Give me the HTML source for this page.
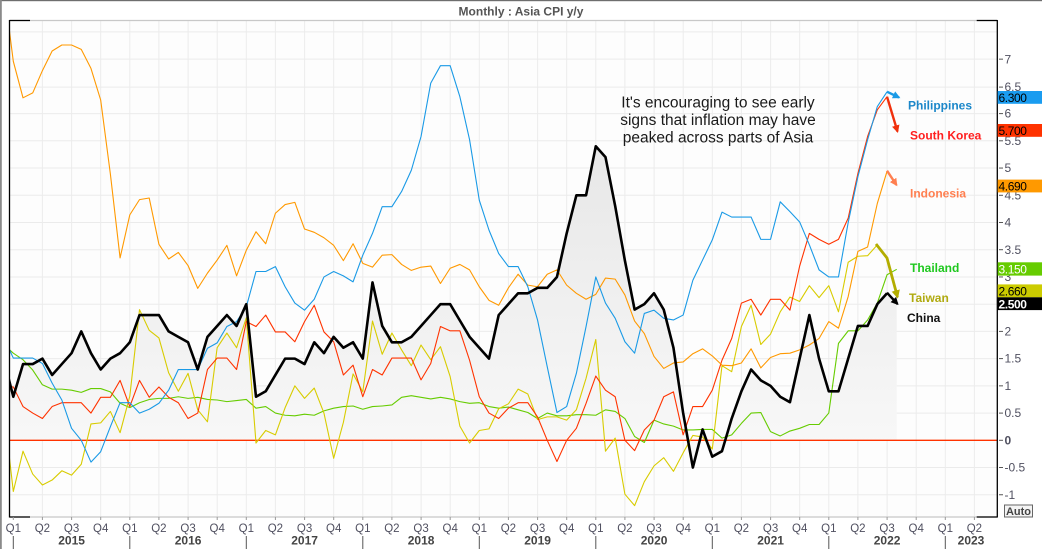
<!DOCTYPE html>
<html>
<head>
<meta charset="utf-8">
<style>
  html,body{margin:0;padding:0;background:#fff;}
  svg{display:block;}
  text{font-family:"Liberation Sans",Arial,sans-serif;}
</style>
</head>
<body>
<svg width="1042" height="549" viewBox="0 0 1042 549" xmlns="http://www.w3.org/2000/svg">
  <defs>
    <clipPath id="plotclip"><rect x="9.5" y="20.5" width="987.5" height="496.5"/></clipPath>
    <linearGradient id="gf" x1="0" y1="0" x2="0" y2="1">
      <stop offset="0" stop-color="#f9f9f9"/>
      <stop offset="1" stop-color="#e7e7e7"/>
    </linearGradient>
    <marker id="mBlue" viewBox="0 0 10 10" refX="8" refY="5" markerWidth="3.2" markerHeight="3.2" orient="auto"><path d="M0,0 L10,5 L0,10 z" fill="#1a9ae6"/></marker>
    <marker id="mRed" viewBox="0 0 10 10" refX="8" refY="5" markerWidth="3.2" markerHeight="3.2" orient="auto"><path d="M0,0 L10,5 L0,10 z" fill="#f0300c"/></marker>
    <marker id="mCoral" viewBox="0 0 10 10" refX="8" refY="5" markerWidth="3.2" markerHeight="3.2" orient="auto"><path d="M0,0 L10,5 L0,10 z" fill="#ff7f50"/></marker>
    <marker id="mOlive" viewBox="0 0 10 10" refX="8" refY="5" markerWidth="3" markerHeight="3" orient="auto"><path d="M0,0 L10,5 L0,10 z" fill="#b3ad00"/></marker>
    <marker id="mBlack" viewBox="0 0 10 10" refX="8" refY="5" markerWidth="3.2" markerHeight="3.2" orient="auto"><path d="M0,0 L10,5 L0,10 z" fill="#000"/></marker>
  </defs>

  <!-- outer frame -->
  <rect x="0" y="0" width="1042" height="549" fill="#ffffff"/>
  <rect x="0" y="0" width="1042" height="1.2" fill="#6e6e6e"/>
  <rect x="0" y="0" width="1.8" height="549" fill="#8a8a8a"/>

  <!-- title -->
  <text x="521" y="15.5" text-anchor="middle" font-size="12" font-weight="bold" fill="#555">Monthly : Asia CPI y/y</text>

  <!-- plot background -->
  <rect x="9.5" y="20.5" width="987.5" height="496.5" fill="#fdfdfd"/>

  <!-- horizontal gridlines -->
  <g stroke="#ebebeb" stroke-width="1">
    <line x1="9.5" y1="31.9" x2="997" y2="31.9"/>
    <line x1="9.5" y1="59.15" x2="997" y2="59.15"/>
    <line x1="9.5" y1="87.1" x2="997" y2="87.1"/>
    <line x1="9.5" y1="113.6" x2="997" y2="113.6"/>
    <line x1="9.5" y1="140.8" x2="997" y2="140.8"/>
    <line x1="9.5" y1="168.05" x2="997" y2="168.05"/>
    <line x1="9.5" y1="195.3" x2="997" y2="195.3"/>
    <line x1="9.5" y1="222.5" x2="997" y2="222.5"/>
    <line x1="9.5" y1="249.7" x2="997" y2="249.7"/>
    <line x1="9.5" y1="276.95" x2="997" y2="276.95"/>
    <line x1="9.5" y1="304.2" x2="997" y2="304.2"/>
    <line x1="9.5" y1="331.4" x2="997" y2="331.4"/>
    <line x1="9.5" y1="358.6" x2="997" y2="358.6"/>
    <line x1="9.5" y1="385.85" x2="997" y2="385.85"/>
    <line x1="9.5" y1="413.1" x2="997" y2="413.1"/>
    <line x1="9.5" y1="467.5" x2="997" y2="467.5"/>
    <line x1="9.5" y1="494.75" x2="997" y2="494.75"/>
  </g>
  <!-- vertical gridlines (quarters) -->
  <g stroke="#ececec" stroke-width="1">
    <line x1="42.4" y1="20.5" x2="42.4" y2="517"/>
    <line x1="71.6" y1="20.5" x2="71.6" y2="517"/>
    <line x1="100.7" y1="20.5" x2="100.7" y2="517"/>
    <line x1="129.8" y1="20.5" x2="129.8" y2="517"/>
    <line x1="158.9" y1="20.5" x2="158.9" y2="517"/>
    <line x1="188.1" y1="20.5" x2="188.1" y2="517"/>
    <line x1="217.2" y1="20.5" x2="217.2" y2="517"/>
    <line x1="246.3" y1="20.5" x2="246.3" y2="517"/>
    <line x1="275.4" y1="20.5" x2="275.4" y2="517"/>
    <line x1="304.6" y1="20.5" x2="304.6" y2="517"/>
    <line x1="333.7" y1="20.5" x2="333.7" y2="517"/>
    <line x1="362.8" y1="20.5" x2="362.8" y2="517"/>
    <line x1="391.9" y1="20.5" x2="391.9" y2="517"/>
    <line x1="421.1" y1="20.5" x2="421.1" y2="517"/>
    <line x1="450.2" y1="20.5" x2="450.2" y2="517"/>
    <line x1="479.3" y1="20.5" x2="479.3" y2="517"/>
    <line x1="508.4" y1="20.5" x2="508.4" y2="517"/>
    <line x1="537.6" y1="20.5" x2="537.6" y2="517"/>
    <line x1="566.7" y1="20.5" x2="566.7" y2="517"/>
    <line x1="595.8" y1="20.5" x2="595.8" y2="517"/>
    <line x1="624.9" y1="20.5" x2="624.9" y2="517"/>
    <line x1="654.1" y1="20.5" x2="654.1" y2="517"/>
    <line x1="683.2" y1="20.5" x2="683.2" y2="517"/>
    <line x1="712.3" y1="20.5" x2="712.3" y2="517"/>
    <line x1="741.4" y1="20.5" x2="741.4" y2="517"/>
    <line x1="770.6" y1="20.5" x2="770.6" y2="517"/>
    <line x1="799.7" y1="20.5" x2="799.7" y2="517"/>
    <line x1="828.8" y1="20.5" x2="828.8" y2="517"/>
    <line x1="857.9" y1="20.5" x2="857.9" y2="517"/>
    <line x1="887.1" y1="20.5" x2="887.1" y2="517"/>
    <line x1="916.2" y1="20.5" x2="916.2" y2="517"/>
    <line x1="945.3" y1="20.5" x2="945.3" y2="517"/>
    <line x1="974.4" y1="20.5" x2="974.4" y2="517"/>
  </g>

  <g clip-path="url(#plotclip)">
    <g transform="matrix(9.708 0 0 -54.45 13.3 440.3)">
      <!-- China area fill -->
      <polygon fill="url(#gf)" points="-1,0 -1,1.5 0,0.8 1,1.4 2,1.4 3,1.5 4,1.2 5,1.4 6,1.6 7,2.0 8,1.6 9,1.3 10,1.5 11,1.6 12,1.8 13,2.3 14,2.3 15,2.3 16,2.0 17,1.9 18,1.8 19,1.3 20,1.9 21,2.1 22,2.3 23,2.1 24,2.5 25,0.8 26,0.9 27,1.2 28,1.5 29,1.5 30,1.4 31,1.8 32,1.6 33,1.9 34,1.7 35,1.8 36,1.5 37,2.9 38,2.1 39,1.8 40,1.8 41,1.9 42,2.1 43,2.3 44,2.5 45,2.5 46,2.2 47,1.9 48,1.7 49,1.5 50,2.3 51,2.5 52,2.7 53,2.7 54,2.8 55,2.8 56,3.0 57,3.8 58,4.5 59,4.5 60,5.4 61,5.2 62,4.3 63,3.3 64,2.4 65,2.5 66,2.7 67,2.4 68,1.7 69,0.5 70,-0.5 71,0.2 72,-0.3 73,-0.2 74,0.4 75,0.9 76,1.3 77,1.1 78,1.0 79,0.8 80,0.7 81,1.5 82,2.3 83,1.5 84,0.9 85,0.9 86,1.5 87,2.1 88,2.1 89,2.5 90,2.7 91,2.5 91,0"/>
    </g>

    <!-- zero line -->
    <line x1="9.5" y1="440.3" x2="997" y2="440.3" stroke="#ff3300" stroke-width="1.3"/>

    <g transform="matrix(9.708 0 0 -54.45 13.3 440.3)" fill="none" stroke-linejoin="round">
      <!-- Thailand (core) -->
      <polyline vector-effect="non-scaling-stroke" stroke="#66cc00" stroke-width="1.1" points="-1,1.76 0,1.60 1,1.48 2,1.29 3,1.02 4,0.94 5,0.94 6,0.92 7,0.88 8,0.95 9,0.95 10,0.89 11,0.68 12,0.60 13,0.69 14,0.75 15,0.77 16,0.77 17,0.80 18,0.77 19,0.79 20,0.75 21,0.74 22,0.71 23,0.73 24,0.75 25,0.59 26,0.62 27,0.50 28,0.46 29,0.45 30,0.48 31,0.46 32,0.54 33,0.59 34,0.62 35,0.63 36,0.57 37,0.62 38,0.63 39,0.65 40,0.79 41,0.82 42,0.79 43,0.76 44,0.79 45,0.76 46,0.71 47,0.68 48,0.69 49,0.62 50,0.59 51,0.61 52,0.56 53,0.51 54,0.40 55,0.50 56,0.45 57,0.45 58,0.47 59,0.47 60,0.46 61,0.56 62,0.53 63,0.40 64,0.07 65,-0.04 66,0.37 67,0.30 68,0.26 69,0.19 70,0.19 71,0.20 72,0.20 73,0.04 74,0.10 75,0.31 76,0.50 77,0.51 78,0.16 79,0.08 80,0.17 81,0.22 82,0.29 83,0.29 84,0.50 85,1.78 86,2.01 87,2.01 88,2.21 89,2.52 90,3.04 91,3.14"/>
      <!-- Taiwan -->
      <polyline vector-effect="non-scaling-stroke" stroke="#d8cc00" stroke-width="1.1" points="-1,0.61 0,-0.94 1,-0.20 2,-0.62 3,-0.82 4,-0.73 5,-0.56 6,-0.64 7,-0.44 8,0.30 9,0.32 10,0.53 11,0.14 12,0.81 13,2.40 14,2.02 15,1.88 16,1.24 17,0.90 18,1.23 19,0.56 20,0.34 21,1.70 22,1.97 23,1.70 24,2.25 25,-0.05 26,0.18 27,0.10 28,0.60 29,1.00 30,0.77 31,0.96 32,0.50 33,-0.33 34,0.33 35,1.22 36,0.89 37,2.19 38,1.58 39,1.97 40,1.66 41,1.37 42,1.75 43,1.48 44,1.72 45,1.17 46,0.26 47,-0.05 48,0.18 49,0.21 50,0.58 51,0.67 52,0.94 53,0.85 54,0.38 55,0.43 56,0.43 57,0.37 58,0.56 59,1.14 60,1.85 61,-0.20 62,0.04 63,-0.99 64,-1.20 65,-0.76 66,-0.47 67,-0.32 68,-0.57 69,-0.23 70,0.09 71,0.06 72,-0.16 73,1.37 74,1.26 75,2.09 76,2.48 77,1.76 78,1.95 79,2.36 80,2.63 81,2.55 82,2.84 83,2.62 84,2.84 85,2.36 86,3.27 87,3.38 88,3.39 89,3.59"/>
      <!-- South Korea -->
      <polyline vector-effect="non-scaling-stroke" stroke="#ff3300" stroke-width="1.1" points="-1,0.98 0,0.98 1,0.62 2,0.50 3,0.40 4,0.62 5,0.69 6,0.69 7,0.69 8,0.50 9,0.79 10,0.79 11,1.10 12,0.62 13,1.10 14,0.79 15,0.98 16,0.79 17,0.69 18,0.40 19,0.50 20,1.30 21,1.51 22,1.51 23,1.30 24,2.18 25,2.09 26,2.30 27,1.99 28,1.99 29,1.81 30,2.18 31,2.48 32,1.99 33,1.81 34,1.20 35,1.38 36,0.80 37,1.30 38,1.20 39,1.51 40,1.51 41,1.51 42,1.11 43,1.41 44,2.09 45,2.01 46,2.01 47,1.47 48,0.80 49,0.50 50,0.40 51,0.59 52,0.69 53,0.69 54,0.43 55,0.00 56,-0.39 57,0.00 58,0.22 59,0.68 60,1.18 61,0.92 62,0.80 63,0.00 64,-0.19 65,0.19 66,0.37 67,0.80 68,0.89 69,0.10 70,0.62 71,0.62 72,0.92 73,1.47 74,1.87 75,2.52 76,2.59 77,2.30 78,2.59 79,2.59 80,2.39 81,3.20 82,3.80 83,3.69 84,3.60 85,3.69 86,4.08 87,4.90 88,5.58 89,6.07 90,6.31"/>
      <!-- Indonesia -->
      <polyline vector-effect="non-scaling-stroke" stroke="#ff9900" stroke-width="1.1" points="-1,8.36 0,6.96 1,6.29 2,6.38 3,6.79 4,7.15 5,7.26 6,7.26 7,7.18 8,6.83 9,6.25 10,4.89 11,3.35 12,4.14 13,4.42 14,4.45 15,3.60 16,3.33 17,3.45 18,3.21 19,2.79 20,3.07 21,3.31 22,3.58 23,3.02 24,3.49 25,3.83 26,3.61 27,4.17 28,4.33 29,4.37 30,3.88 31,3.82 32,3.72 33,3.58 34,3.30 35,3.61 36,3.25 37,3.18 38,3.40 39,3.41 40,3.23 41,3.12 42,3.18 43,3.20 44,2.88 45,3.16 46,3.23 47,3.13 48,2.82 49,2.57 50,2.48 51,2.80 52,3.05 53,2.85 54,2.82 55,3.05 56,3.13 57,2.85 58,2.70 59,2.59 60,2.68 61,2.98 62,2.96 63,2.67 64,2.19 65,1.96 66,1.54 67,1.32 68,1.42 69,1.44 70,1.59 71,1.68 72,1.55 73,1.38 74,1.37 75,1.42 76,1.68 77,1.33 78,1.52 79,1.59 80,1.60 81,1.66 82,1.75 83,1.87 84,2.18 85,2.06 86,2.64 87,3.47 88,3.55 89,4.35 90,4.94"/>
      <!-- Philippines -->
      <polyline vector-effect="non-scaling-stroke" stroke="#1a9ae6" stroke-width="1.1" points="-1,1.9 0,1.51 1,1.51 2,1.51 3,1.41 4,1.05 5,0.74 6,0.22 7,0.00 8,-0.40 9,-0.21 10,0.25 11,0.69 12,0.69 13,0.50 14,0.57 15,0.68 16,0.92 17,1.30 18,1.30 19,1.30 20,1.69 21,1.79 22,2.09 23,2.18 24,2.45 25,3.10 26,3.10 27,3.19 28,2.82 29,2.52 30,2.39 31,2.59 32,3.00 33,3.10 34,3.02 35,2.91 36,3.40 37,3.80 38,4.29 39,4.29 40,4.57 41,4.96 42,5.58 43,6.56 44,6.88 45,6.88 46,6.31 47,5.52 48,4.41 49,3.86 50,3.43 51,3.19 52,3.19 53,2.82 54,2.21 55,1.35 56,0.51 57,0.62 58,1.23 59,2.09 60,3.00 61,2.52 62,2.24 63,1.81 64,1.60 65,2.33 66,2.39 67,2.24 68,2.21 69,2.30 70,2.94 71,3.31 72,3.68 73,4.19 74,4.10 75,4.10 76,4.10 77,3.69 78,3.69 79,4.38 80,4.20 81,4.01 82,3.59 83,3.13 84,3.00 85,3.00 86,4.00 87,4.84 88,5.52 89,6.13 90,6.40"/>
      <!-- China -->
      <polyline vector-effect="non-scaling-stroke" stroke="#000000" stroke-width="2.6" points="-1,1.5 0,0.8 1,1.4 2,1.4 3,1.5 4,1.2 5,1.4 6,1.6 7,2.0 8,1.6 9,1.3 10,1.5 11,1.6 12,1.8 13,2.3 14,2.3 15,2.3 16,2.0 17,1.9 18,1.8 19,1.3 20,1.9 21,2.1 22,2.3 23,2.1 24,2.5 25,0.8 26,0.9 27,1.2 28,1.5 29,1.5 30,1.4 31,1.8 32,1.6 33,1.9 34,1.7 35,1.8 36,1.5 37,2.9 38,2.1 39,1.8 40,1.8 41,1.9 42,2.1 43,2.3 44,2.5 45,2.5 46,2.2 47,1.9 48,1.7 49,1.5 50,2.3 51,2.5 52,2.7 53,2.7 54,2.8 55,2.8 56,3.0 57,3.8 58,4.5 59,4.5 60,5.4 61,5.2 62,4.3 63,3.3 64,2.4 65,2.5 66,2.7 67,2.4 68,1.7 69,0.5 70,-0.5 71,0.2 72,-0.3 73,-0.2 74,0.4 75,0.9 76,1.3 77,1.1 78,1.0 79,0.8 80,0.7 81,1.5 82,2.3 83,1.5 84,0.9 85,0.9 86,1.5 87,2.1 88,2.1 89,2.5 90,2.7"/>
    </g>
  </g>

  <!-- annotation arrows -->
  <g fill="none" stroke-linejoin="round">
    <path d="M887,91.7 L899,97.5" stroke="#1a9ae6" stroke-width="2.4" marker-end="url(#mBlue)"/>
    <path d="M887,96.7 L897.5,131.5" stroke="#f0300c" stroke-width="2.4" marker-end="url(#mRed)"/>
    <path d="M887,170.7 L896.5,185" stroke="#ff7f50" stroke-width="2.4" marker-end="url(#mCoral)"/>
    <path d="M876,244 L887,258 L897.5,297" stroke="#b3ad00" stroke-width="2.8" marker-end="url(#mOlive)"/>
    <path d="M887,292.7 L897.5,304" stroke="#000" stroke-width="2.4" marker-end="url(#mBlack)"/>
  </g>

  <!-- series labels -->
  <g font-size="12" font-weight="bold">
    <text x="908" y="109.5" fill="#1b87c9">Philippines</text>
    <text x="910" y="139.3" fill="#ff1f1f">South Korea</text>
    <text x="910" y="197.7" fill="#ff7f50">Indonesia</text>
    <text x="910" y="272" fill="#1ec81e">Thailand</text>
    <text x="909" y="302" fill="#b0aa10">Taiwan</text>
    <text x="907" y="322" fill="#111">China</text>
  </g>

  <!-- annotation text -->
  <g font-size="15.5" fill="#1a1a1a" text-anchor="middle">
    <text x="718" y="107.5">It's encouraging to see early</text>
    <text x="718" y="125">signs that inflation may have</text>
    <text x="718" y="142.5">peaked across parts of Asia</text>
  </g>

  <!-- plot frame -->
  <line x1="9.5" y1="20.5" x2="997" y2="20.5" stroke="#c8c8c8" stroke-width="1.2"/>
  <line x1="9.5" y1="517" x2="997" y2="517" stroke="#c8c8c8" stroke-width="1.2"/>
  <line x1="9.5" y1="20.5" x2="30" y2="20.5" stroke="#000" stroke-width="1.3"/>
  <line x1="9.5" y1="517" x2="30" y2="517" stroke="#000" stroke-width="1.3"/>
  <line x1="976.7" y1="20.5" x2="997.3" y2="20.5" stroke="#000" stroke-width="1.3"/>
  <line x1="976.7" y1="517" x2="997.3" y2="517" stroke="#000" stroke-width="1.3"/>
  <line x1="9.5" y1="20" x2="9.5" y2="517.5" stroke="#000" stroke-width="1.3"/>
  <line x1="997.3" y1="20" x2="997.3" y2="517.5" stroke="#000" stroke-width="1.3"/>

  <!-- right axis ticks + labels -->
  <g stroke="#555" stroke-width="1">
    <line x1="999" y1="59.15" x2="1003" y2="59.15"/>
    <line x1="999" y1="87.1" x2="1003" y2="87.1"/>
    <line x1="999" y1="113.6" x2="1003" y2="113.6"/>
    <line x1="999" y1="140.8" x2="1003" y2="140.8"/>
    <line x1="999" y1="168.05" x2="1003" y2="168.05"/>
    <line x1="999" y1="195.3" x2="1003" y2="195.3"/>
    <line x1="999" y1="222.5" x2="1003" y2="222.5"/>
    <line x1="999" y1="249.7" x2="1003" y2="249.7"/>
    <line x1="999" y1="276.95" x2="1003" y2="276.95"/>
    <line x1="999" y1="304.2" x2="1003" y2="304.2"/>
    <line x1="999" y1="331.4" x2="1003" y2="331.4"/>
    <line x1="999" y1="358.6" x2="1003" y2="358.6"/>
    <line x1="999" y1="385.85" x2="1003" y2="385.85"/>
    <line x1="999" y1="413.1" x2="1003" y2="413.1"/>
    <line x1="999" y1="440.3" x2="1003" y2="440.3"/>
    <line x1="999" y1="467.5" x2="1003" y2="467.5"/>
    <line x1="999" y1="494.75" x2="1003" y2="494.75"/>
  </g>
  <g font-size="12" fill="#505060">
    <text x="1004.5" y="63.3">7</text>
    <text x="1004.5" y="91.2">6.5</text>
    <text x="1004.5" y="117.7">6</text>
    <text x="1004.5" y="144.9">5.5</text>
    <text x="1004.5" y="172.2">5</text>
    <text x="1004.5" y="199.4">4.5</text>
    <text x="1004.5" y="226.6">4</text>
    <text x="1004.5" y="253.8">3.5</text>
    <text x="1004.5" y="281.1">3</text>
    <text x="1004.5" y="308.3">2.5</text>
    <text x="1004.5" y="335.5">2</text>
    <text x="1004.5" y="362.7">1.5</text>
    <text x="1004.5" y="390">1</text>
    <text x="1004.5" y="417.2">0.5</text>
    <text x="1004.5" y="444.4" font-weight="bold">0</text>
    <text x="1004.5" y="471.6">-0.5</text>
    <text x="1004.5" y="498.9">-1</text>
  </g>

  <!-- value boxes -->
  <g font-size="12" letter-spacing="-0.4">
    <rect x="997.7" y="91" width="44.3" height="12.8" fill="#1a9cf0"/>
    <text x="998.5" y="102" fill="#000">6.300</text>
    <rect x="997.7" y="124" width="44.3" height="12.8" fill="#ff3300"/>
    <text x="998.5" y="135" fill="#000">5.700</text>
    <rect x="997.7" y="179.6" width="44.3" height="12.8" fill="#ff9900"/>
    <text x="998.5" y="190.6" fill="#000">4.690</text>
    <rect x="997.7" y="262.3" width="44.3" height="13.3" fill="#66cc00"/>
    <text x="998.5" y="273.6" fill="#fff">3.150</text>
    <rect x="997.7" y="284.4" width="44.3" height="12.9" fill="#cccc00"/>
    <text x="998.5" y="295.5" fill="#000">2.660</text>
    <rect x="997.7" y="297.3" width="44.3" height="12.8" fill="#000000"/>
    <text x="998.5" y="308.3" fill="#fff" font-weight="bold">2.500</text>
  </g>

  <!-- Auto box -->
  <rect x="1004.5" y="505" width="28" height="12" fill="#f4f4f4" stroke="#666" stroke-width="1"/>
  <text x="1018.5" y="515" text-anchor="middle" font-size="11" font-weight="bold" fill="#444">Auto</text>

  <!-- bottom axis quarter ticks -->
  <g stroke="#999" stroke-width="1">
    <line x1="13.3" y1="517" x2="13.3" y2="520"/><line x1="42.4" y1="517" x2="42.4" y2="520"/><line x1="71.6" y1="517" x2="71.6" y2="520"/><line x1="100.7" y1="517" x2="100.7" y2="520"/>
    <line x1="129.8" y1="517" x2="129.8" y2="520"/><line x1="158.9" y1="517" x2="158.9" y2="520"/><line x1="188.1" y1="517" x2="188.1" y2="520"/><line x1="217.2" y1="517" x2="217.2" y2="520"/>
    <line x1="246.3" y1="517" x2="246.3" y2="520"/><line x1="275.4" y1="517" x2="275.4" y2="520"/><line x1="304.6" y1="517" x2="304.6" y2="520"/><line x1="333.7" y1="517" x2="333.7" y2="520"/>
    <line x1="362.8" y1="517" x2="362.8" y2="520"/><line x1="391.9" y1="517" x2="391.9" y2="520"/><line x1="421.1" y1="517" x2="421.1" y2="520"/><line x1="450.2" y1="517" x2="450.2" y2="520"/>
    <line x1="479.3" y1="517" x2="479.3" y2="520"/><line x1="508.4" y1="517" x2="508.4" y2="520"/><line x1="537.6" y1="517" x2="537.6" y2="520"/><line x1="566.7" y1="517" x2="566.7" y2="520"/>
    <line x1="595.8" y1="517" x2="595.8" y2="520"/><line x1="624.9" y1="517" x2="624.9" y2="520"/><line x1="654.1" y1="517" x2="654.1" y2="520"/><line x1="683.2" y1="517" x2="683.2" y2="520"/>
    <line x1="712.3" y1="517" x2="712.3" y2="520"/><line x1="741.4" y1="517" x2="741.4" y2="520"/><line x1="770.6" y1="517" x2="770.6" y2="520"/><line x1="799.7" y1="517" x2="799.7" y2="520"/>
    <line x1="828.8" y1="517" x2="828.8" y2="520"/><line x1="857.9" y1="517" x2="857.9" y2="520"/><line x1="887.1" y1="517" x2="887.1" y2="520"/><line x1="916.2" y1="517" x2="916.2" y2="520"/>
    <line x1="945.3" y1="517" x2="945.3" y2="520"/><line x1="974.4" y1="517" x2="974.4" y2="520"/>
  </g>

  <!-- quarter labels -->
  <g font-size="11.5" fill="#505060" text-anchor="middle">
    <text x="13.3" y="532">Q1</text><text x="42.4" y="532">Q2</text><text x="71.6" y="532">Q3</text><text x="100.7" y="532">Q4</text>
    <text x="129.8" y="532">Q1</text><text x="158.9" y="532">Q2</text><text x="188.1" y="532">Q3</text><text x="217.2" y="532">Q4</text>
    <text x="246.3" y="532">Q1</text><text x="275.4" y="532">Q2</text><text x="304.6" y="532">Q3</text><text x="333.7" y="532">Q4</text>
    <text x="362.8" y="532">Q1</text><text x="391.9" y="532">Q2</text><text x="421.1" y="532">Q3</text><text x="450.2" y="532">Q4</text>
    <text x="479.3" y="532">Q1</text><text x="508.4" y="532">Q2</text><text x="537.6" y="532">Q3</text><text x="566.7" y="532">Q4</text>
    <text x="595.8" y="532">Q1</text><text x="624.9" y="532">Q2</text><text x="654.1" y="532">Q3</text><text x="683.2" y="532">Q4</text>
    <text x="712.3" y="532">Q1</text><text x="741.4" y="532">Q2</text><text x="770.6" y="532">Q3</text><text x="799.7" y="532">Q4</text>
    <text x="828.8" y="532">Q1</text><text x="857.9" y="532">Q2</text><text x="887.1" y="532">Q3</text><text x="916.2" y="532">Q4</text>
    <text x="945.3" y="532">Q1</text><text x="974.4" y="532">Q2</text>
  </g>

  <!-- year separators -->
  <g stroke="#555" stroke-width="1">
    <line x1="13.3" y1="536" x2="13.3" y2="549"/>
    <line x1="129.8" y1="536" x2="129.8" y2="549"/>
    <line x1="246.3" y1="536" x2="246.3" y2="549"/>
    <line x1="362.8" y1="536" x2="362.8" y2="549"/>
    <line x1="479.3" y1="536" x2="479.3" y2="549"/>
    <line x1="595.8" y1="536" x2="595.8" y2="549"/>
    <line x1="712.3" y1="536" x2="712.3" y2="549"/>
    <line x1="828.8" y1="536" x2="828.8" y2="549"/>
    <line x1="945.3" y1="536" x2="945.3" y2="549"/>
  </g>

  <!-- year labels -->
  <g font-size="12" font-weight="bold" fill="#444" text-anchor="middle">
    <text x="71.6" y="544.5">2015</text>
    <text x="188.1" y="544.5">2016</text>
    <text x="304.6" y="544.5">2017</text>
    <text x="421.1" y="544.5">2018</text>
    <text x="537.6" y="544.5">2019</text>
    <text x="654.1" y="544.5">2020</text>
    <text x="770.6" y="544.5">2021</text>
    <text x="887.1" y="544.5">2022</text>
    <text x="971" y="544.5">2023</text>
  </g>
</svg>
</body>
</html>
